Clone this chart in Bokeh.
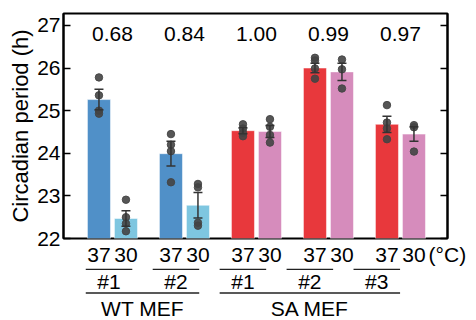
from bokeh.plotting import figure
from bokeh.layouts import column
from bokeh.models import (Range1d, LinearAxis, FixedTicker, Whisker,
                          ColumnDataSource, TeeHead)
from bokeh.core.properties import value
from bokeh.embed import file_html
from bokeh.resources import INLINE

# ---------------- data ----------------
clone_labels = ["#1", "#2", "#1", "#2", "#3"]
cell_types = ["WT MEF", "SA MEF"]
cell_type_members = [[0, 1], [2, 3, 4]]
temp_labels = ["37", "30"]
unit_label = "(°C)"
ratio_labels = ["0.68", "0.84", "1.00", "0.99", "0.97"]
y_ticks = [22, 23, 24, 25, 26, 27]

mean_37 = [25.26, 23.99, 24.53, 26.00, 24.68]
mean_30 = [22.47, 22.78, 24.51, 25.91, 24.45]
sem_37 = [0.24, 0.29, 0.07, 0.11, 0.19]
sem_30 = [0.18, 0.30, 0.14, 0.20, 0.17]

points_37 = [
    [25.78, 25.36, 25.00, 24.93],
    [24.45, 24.20, 24.05, 23.32],
    [24.68, 24.58, 24.48, 24.40],
    [26.24, 26.18, 25.99, 25.75],
    [25.13, 24.72, 24.58, 24.33],
]
points_30 = [
    [22.91, 22.50, 22.35, 22.17],
    [23.28, 23.20, 22.37, 22.30],
    [24.80, 24.62, 24.43, 24.25],
    [26.20, 25.97, 25.52],
    [24.66, 24.61, 24.04],
]

# ---------------- styling / layout ----------------
FONT = "Liberation Sans"
FS = "21px"
C37 = ["#5090c8", "#5090c8", "#e8383c", "#e8383c", "#e8383c"]
C30 = ["#7ec6e0", "#7ec6e0", "#d68cbc", "#d68cbc", "#d68cbc"]
LINE_C = "#222222"
OFF = 0.1875
BW = 0.32
Y0, Y1 = 22, 27.28
X0 = -0.68
PX_PER_UNIT = 72.0
W = 476
LEFT, RIGHT, TOP = 63, 29, 13
FRAME_BOTTOM = 239
BOTTOM_BORDER = 29
H1 = FRAME_BOTTOM + BOTTOM_BORDER
H2 = 320 - H1

n = len(clone_labels)
gx = list(range(n))
x37 = [g - OFF for g in gx]
x30 = [g + OFF for g in gx]
X1 = X0 + (W - LEFT - RIGHT) / PX_PER_UNIT
unit_x = X1 - 0.002

p = figure(width=W, height=H1, x_range=Range1d(X0, X1),
           y_range=Range1d(Y0, Y1), output_backend="svg",
           toolbar_location=None,
           min_border_left=LEFT, min_border_right=RIGHT,
           min_border_top=TOP, min_border_bottom=BOTTOM_BORDER)
p.grid.visible = False
p.outline_line_color = "black"
p.outline_line_width = 2

# bars
p.vbar(x=x37, top=mean_37, bottom=Y0, width=BW, fill_color=C37,
       line_color="white", line_alpha=0.5, line_width=1)
p.vbar(x=x30, top=mean_30, bottom=Y0, width=BW, fill_color=C30,
       line_color="white", line_alpha=0.5, line_width=1)

# error bars
ex = x37 + x30
em = mean_37 + mean_30
es = sem_37 + sem_30
src = ColumnDataSource(dict(x=ex, up=[m + s for m, s in zip(em, es)],
                            lo=[m - s for m, s in zip(em, es)]))
wh = Whisker(source=src, base="x", upper="up", lower="lo",
             line_color="#333333", line_width=1.5, level="glyph",
             upper_head=TeeHead(size=9, line_color="#333333", line_width=1.5),
             lower_head=TeeHead(size=9, line_color="#333333", line_width=1.5))
p.add_layout(wh)

# individual points
px_, py_ = [], []
for i in range(n):
    for v in points_37[i]:
        px_.append(x37[i]); py_.append(v)
    for v in points_30[i]:
        px_.append(x30[i]); py_.append(v)
p.scatter(px_, py_, size=7.5, color="#444444", alpha=0.9)

# ratio labels above groups
ratio_y = Y0 + (FRAME_BOTTOM - 27) * (Y1 - Y0) / (FRAME_BOTTOM - TOP)
p.text(x=gx, y=[ratio_y] * n, text=ratio_labels, text_align="center",
       text_baseline="top", text_font=value(FONT),
       text_font_size=FS, text_color="black")

# y axis
ya = p.yaxis[0]
ya.ticker = FixedTicker(ticks=y_ticks)
ya.axis_line_width = 2
ya.major_tick_in = 7
ya.major_tick_out = 0
ya.major_tick_line_width = 1.5
ya.minor_tick_line_color = None
ya.major_label_text_font = FONT
ya.major_label_text_font_size = FS
ya.major_label_text_color = "black"
ya.major_label_standoff = 3
ya.axis_label = "Circadian period (h)"
ya.axis_label_text_font = FONT
ya.axis_label_text_font_size = "22px"
ya.axis_label_text_font_style = "normal"
ya.axis_label_text_color = "black"
ya.axis_label_standoff = 1

ra = LinearAxis(ticker=FixedTicker(ticks=y_ticks), major_tick_in=7,
                major_tick_out=0, major_tick_line_width=1.5,
                minor_tick_line_color=None, axis_line_width=2,
                major_label_overrides={t: "" for t in y_ticks},
                major_label_standoff=0)
p.add_layout(ra, "right")

# x axis: temperature labels + unit
xa = p.xaxis[0]
xa.ticker = FixedTicker(ticks=x37 + x30 + [unit_x])
overrides = {x: temp_labels[0] for x in x37}
overrides.update({x: temp_labels[1] for x in x30})
overrides[unit_x] = unit_label
xa.major_label_overrides = overrides
xa.axis_line_color = None
xa.major_tick_line_color = None
xa.major_tick_in = 0
xa.major_tick_out = 0
xa.minor_tick_line_color = None
xa.major_label_standoff = 4
xa.major_label_text_font = FONT
xa.major_label_text_font_size = FS
xa.major_label_text_color = "black"

# ---------------- lower category panel ----------------
q = figure(width=W, height=H2,
           x_range=Range1d(X0, X0 + (W - LEFT) / PX_PER_UNIT),
           y_range=Range1d(H2, 0), output_backend="svg",
           toolbar_location=None, x_axis_location=None, y_axis_location=None,
           min_border_left=LEFT, min_border_right=0, min_border_top=0,
           min_border_bottom=0)
q.grid.visible = False
q.outline_line_color = None


def yb(img_y):
    return img_y - H1


q.segment(x0=[g - OFF - BW / 2 for g in gx], x1=[g + OFF + BW / 2 for g in gx],
          y0=[yb(268.8)] * n, y1=[yb(268.8)] * n, line_color=LINE_C,
          line_width=1.5)
q.text(x=gx, y=[yb(269.5)] * n, text=clone_labels, text_align="center",
       text_baseline="top", text_font=value(FONT),
       text_font_size=FS, text_color="black")
gl_x0 = [gx[m[0]] - OFF - BW / 2 for m in cell_type_members]
gl_x1 = [gx[m[-1]] + OFF + BW / 2 for m in cell_type_members]
q.segment(x0=gl_x0, x1=gl_x1, y0=[yb(292.5)] * 2, y1=[yb(292.5)] * 2,
          line_color=LINE_C, line_width=1.5)
q.text(x=[(gx[m[0]] + gx[m[-1]]) / 2 for m in cell_type_members],
       y=[yb(296)] * 2, text=cell_types, text_align="center",
       text_baseline="top", text_font=value(FONT),
       text_font_size=FS, text_color="black")

layout = column(p, q, spacing=0)
open("out.html", "w").write(file_html(layout, INLINE))
